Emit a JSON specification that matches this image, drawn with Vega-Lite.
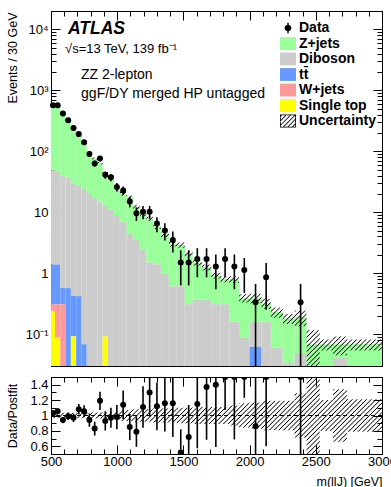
{
  "$schema": "https://vega.github.io/schema/vega-lite/v6.json",
  "padding": {"left": 5, "top": 10, "right": 5, "bottom": 2},
  "config": {
    "font": "Liberation Sans",
    "view": {"stroke": "black", "strokeWidth": 1},
    "axis": {"grid": false, "domainColor": "black", "domainWidth": 1, "tickColor": "black", "tickWidth": 1, "labelColor": "black", "labelFont": "Liberation Sans", "labelFontSize": 13, "titleFont": "Liberation Sans", "titleFontSize": 12.5, "titleFontWeight": "normal", "titleColor": "black", "labelOverlap": false, "labelFlush": false, "labelBound": false}
  },
  "datasets": {
    "samples": [
      {"key": "st", "sample": "Single top", "ord": 1},
      {"key": "w", "sample": "W+jets", "ord": 2},
      {"key": "tt", "sample": "tt̄", "ord": 3},
      {"key": "dib", "sample": "Diboson", "ord": 4},
      {"key": "z", "sample": "Z+jets", "ord": 5}
    ],
    "legendrows": [
      {"sample": "Data"}, {"sample": "Z+jets"}, {"sample": "Diboson"}, {"sample": "tt̄"}, {"sample": "W+jets"}, {"sample": "Single top"}, {"sample": "Uncertainty"}
    ],
    "mc": [
      {"lo": 500, "hi": 530, "z": 506, "dib": 47.6, "tt": 1.08, "w": 0.07, "st": 0.24},
      {"lo": 530, "hi": 570, "z": 493, "dib": 45.6, "tt": 1.08, "w": 0.22, "st": 0.089},
      {"lo": 570, "hi": 610, "z": 401, "dib": 38.4, "tt": 0.26, "w": 0.31, "st": 0},
      {"lo": 610, "hi": 650, "z": 288, "dib": 36.4, "tt": 0.57, "w": 0, "st": 0},
      {"lo": 650, "hi": 690, "z": 218, "dib": 29.6, "tt": 0.33, "w": 0, "st": 0.092},
      {"lo": 690, "hi": 730, "z": 150, "dib": 27.6, "tt": 0.42, "w": 0, "st": 0},
      {"lo": 730, "hi": 770, "z": 110, "dib": 23.9, "tt": 0.068, "w": 0, "st": 0},
      {"lo": 770, "hi": 810, "z": 76, "dib": 20, "tt": 0, "w": 0, "st": 0},
      {"lo": 810, "hi": 850, "z": 59, "dib": 17, "tt": 0, "w": 0, "st": 0},
      {"lo": 850, "hi": 890, "z": 49, "dib": 15, "tt": 0, "w": 0, "st": 0},
      {"lo": 890, "hi": 930, "z": 31, "dib": 12.9, "tt": 0, "w": 0, "st": 0.092},
      {"lo": 930, "hi": 975, "z": 27.5, "dib": 11, "tt": 0, "w": 0, "st": 0},
      {"lo": 975, "hi": 1020, "z": 17.5, "dib": 9, "tt": 0, "w": 0, "st": 0},
      {"lo": 1020, "hi": 1070, "z": 13, "dib": 7, "tt": 0, "w": 0, "st": 0},
      {"lo": 1070, "hi": 1120, "z": 13.1, "dib": 4.5, "tt": 0, "w": 0, "st": 0},
      {"lo": 1120, "hi": 1170, "z": 8.6, "dib": 3.6, "tt": 0, "w": 0, "st": 0},
      {"lo": 1170, "hi": 1220, "z": 6.8, "dib": 2.4, "tt": 0, "w": 0, "st": 0},
      {"lo": 1220, "hi": 1270, "z": 6.3, "dib": 1.5, "tt": 0, "w": 0, "st": 0},
      {"lo": 1270, "hi": 1330, "z": 4.4, "dib": 1.4, "tt": 0, "w": 0, "st": 0},
      {"lo": 1330, "hi": 1390, "z": 3.3, "dib": 1.0, "tt": 0, "w": 0, "st": 0},
      {"lo": 1390, "hi": 1450, "z": 2.39, "dib": 0.61, "tt": 0, "w": 0, "st": 0},
      {"lo": 1450, "hi": 1510, "z": 2.29, "dib": 0.61, "tt": 0, "w": 0, "st": 0},
      {"lo": 1510, "hi": 1570, "z": 1.79, "dib": 0.31, "tt": 0, "w": 0, "st": 0},
      {"lo": 1570, "hi": 1640, "z": 1.12, "dib": 0.37, "tt": 0, "w": 0, "st": 0},
      {"lo": 1640, "hi": 1710, "z": 0.88, "dib": 0.37, "tt": 0, "w": 0, "st": 0},
      {"lo": 1710, "hi": 1780, "z": 0.61, "dib": 0.31, "tt": 0, "w": 0, "st": 0},
      {"lo": 1780, "hi": 1850, "z": 0.49, "dib": 0.31, "tt": 0, "w": 0, "st": 0},
      {"lo": 1850, "hi": 1920, "z": 0.63, "dib": 0.16, "tt": 0, "w": 0, "st": 0},
      {"lo": 1920, "hi": 2000, "z": 0.30, "dib": 0.087, "tt": 0, "w": 0, "st": 0},
      {"lo": 2000, "hi": 2090, "z": 0.23, "dib": 0.098, "tt": 0.062, "w": 0, "st": 0},
      {"lo": 2090, "hi": 2160, "z": 0.16, "dib": 0.16, "tt": 0, "w": 0, "st": 0},
      {"lo": 2160, "hi": 2250, "z": 0.17, "dib": 0.06, "tt": 0, "w": 0, "st": 0},
      {"lo": 2250, "hi": 2340, "z": 0.146, "dib": 0.034, "tt": 0, "w": 0, "st": 0},
      {"lo": 2340, "hi": 2430, "z": 0.141, "dib": 0.049, "tt": 0, "w": 0, "st": 0},
      {"lo": 2430, "hi": 2530, "z": 0.068, "dib": 0, "tt": 0, "w": 0, "st": 0},
      {"lo": 2530, "hi": 2630, "z": 0.068, "dib": 0, "tt": 0, "w": 0, "st": 0},
      {"lo": 2630, "hi": 2735, "z": 0.027, "dib": 0.041, "tt": 0, "w": 0, "st": 0},
      {"lo": 2735, "hi": 3000, "z": 0.068, "dib": 0, "tt": 0, "w": 0, "st": 0}
    ],
    "band": [
      {"lo": 500, "hi": 530, "blo": 535.6, "bhi": 574.4, "rlo": 0.965, "rhi": 1.035},
      {"lo": 530, "hi": 570, "blo": 521.1, "bhi": 558.9, "rlo": 0.965, "rhi": 1.035},
      {"lo": 570, "hi": 610, "blo": 424.6, "bhi": 455.4, "rlo": 0.965, "rhi": 1.035},
      {"lo": 610, "hi": 650, "blo": 313.6, "bhi": 336.4, "rlo": 0.965, "rhi": 1.035},
      {"lo": 650, "hi": 690, "blo": 239.3, "bhi": 256.7, "rlo": 0.965, "rhi": 1.035},
      {"lo": 690, "hi": 730, "blo": 171.8, "bhi": 184.2, "rlo": 0.965, "rhi": 1.035},
      {"lo": 730, "hi": 770, "blo": 129.3, "bhi": 138.7, "rlo": 0.965, "rhi": 1.035},
      {"lo": 770, "hi": 810, "blo": 92.6, "bhi": 99.4, "rlo": 0.965, "rhi": 1.035},
      {"lo": 810, "hi": 850, "blo": 73.0, "bhi": 79.0, "rlo": 0.96, "rhi": 1.04},
      {"lo": 850, "hi": 890, "blo": 61.4, "bhi": 66.6, "rlo": 0.96, "rhi": 1.04},
      {"lo": 890, "hi": 930, "blo": 42.2, "bhi": 45.8, "rlo": 0.96, "rhi": 1.04},
      {"lo": 930, "hi": 975, "blo": 36.6, "bhi": 40.4, "rlo": 0.95, "rhi": 1.05},
      {"lo": 975, "hi": 1020, "blo": 25.2, "bhi": 27.8, "rlo": 0.95, "rhi": 1.05},
      {"lo": 1020, "hi": 1070, "blo": 18.6, "bhi": 21.4, "rlo": 0.93, "rhi": 1.07},
      {"lo": 1070, "hi": 1120, "blo": 16.4, "bhi": 18.8, "rlo": 0.93, "rhi": 1.07},
      {"lo": 1120, "hi": 1170, "blo": 11.2, "bhi": 13.2, "rlo": 0.92, "rhi": 1.08},
      {"lo": 1170, "hi": 1220, "blo": 8.5, "bhi": 9.9, "rlo": 0.92, "rhi": 1.08},
      {"lo": 1220, "hi": 1270, "blo": 7.2, "bhi": 8.4, "rlo": 0.92, "rhi": 1.08},
      {"lo": 1270, "hi": 1330, "blo": 5.28, "bhi": 6.32, "rlo": 0.91, "rhi": 1.09},
      {"lo": 1330, "hi": 1390, "blo": 3.91, "bhi": 4.69, "rlo": 0.91, "rhi": 1.09},
      {"lo": 1390, "hi": 1450, "blo": 2.73, "bhi": 3.27, "rlo": 0.91, "rhi": 1.09},
      {"lo": 1450, "hi": 1510, "blo": 2.61, "bhi": 3.19, "rlo": 0.9, "rhi": 1.1},
      {"lo": 1510, "hi": 1570, "blo": 1.89, "bhi": 2.31, "rlo": 0.9, "rhi": 1.1},
      {"lo": 1570, "hi": 1640, "blo": 1.33, "bhi": 1.65, "rlo": 0.89, "rhi": 1.11},
      {"lo": 1640, "hi": 1710, "blo": 1.11, "bhi": 1.39, "rlo": 0.89, "rhi": 1.11},
      {"lo": 1710, "hi": 1780, "blo": 0.82, "bhi": 1.02, "rlo": 0.89, "rhi": 1.11},
      {"lo": 1780, "hi": 1850, "blo": 0.71, "bhi": 0.89, "rlo": 0.89, "rhi": 1.11},
      {"lo": 1850, "hi": 1920, "blo": 0.69, "bhi": 0.89, "rlo": 0.87, "rhi": 1.13},
      {"lo": 1920, "hi": 2000, "blo": 0.33, "bhi": 0.45, "rlo": 0.84, "rhi": 1.16},
      {"lo": 2000, "hi": 2090, "blo": 0.32, "bhi": 0.46, "rlo": 0.83, "rhi": 1.17},
      {"lo": 2090, "hi": 2160, "blo": 0.26, "bhi": 0.38, "rlo": 0.81, "rhi": 1.19},
      {"lo": 2160, "hi": 2250, "blo": 0.186, "bhi": 0.274, "rlo": 0.81, "rhi": 1.19},
      {"lo": 2250, "hi": 2340, "blo": 0.146, "bhi": 0.214, "rlo": 0.81, "rhi": 1.19},
      {"lo": 2340, "hi": 2430, "blo": 0.135, "bhi": 0.245, "rlo": 0.71, "rhi": 1.29},
      {"lo": 2430, "hi": 2530, "blo": 0.02, "bhi": 0.116, "rlo": 0.3, "rhi": 1.7},
      {"lo": 2530, "hi": 2630, "blo": 0.054, "bhi": 0.082, "rlo": 0.8, "rhi": 1.2},
      {"lo": 2630, "hi": 2735, "blo": 0.045, "bhi": 0.091, "rlo": 0.66, "rhi": 1.34},
      {"lo": 2735, "hi": 3000, "blo": 0.054, "bhi": 0.082, "rlo": 0.79, "rhi": 1.21}
    ],
    "data": [
      {"m": 515, "n": 570, "lo": 546, "hi": 594, "r": 1.03, "rlo": 0.987, "rhi": 1.073},
      {"m": 550, "n": 570, "lo": 549, "hi": 591, "r": 1.055, "rlo": 1.017, "rhi": 1.093},
      {"m": 590, "n": 415, "lo": 397, "hi": 433, "r": 0.94, "rlo": 0.90, "rhi": 0.98},
      {"m": 630, "n": 322, "lo": 306, "hi": 338, "r": 0.99, "rlo": 0.942, "rhi": 1.038},
      {"m": 670, "n": 241, "lo": 228, "hi": 255, "r": 0.97, "rlo": 0.916, "rhi": 1.024},
      {"m": 710, "n": 192, "lo": 180, "hi": 204, "r": 1.08, "rlo": 1.013, "rhi": 1.148},
      {"m": 750, "n": 141, "lo": 131, "hi": 151, "r": 1.055, "rlo": 0.978, "rhi": 1.132},
      {"m": 790, "n": 90, "lo": 82, "hi": 98, "r": 0.94, "rlo": 0.854, "rhi": 1.026},
      {"m": 830, "n": 63, "lo": 56, "hi": 70, "r": 0.83, "rlo": 0.74, "rhi": 0.92},
      {"m": 870, "n": 76, "lo": 68, "hi": 84, "r": 1.19, "rlo": 1.072, "rhi": 1.308},
      {"m": 910, "n": 41, "lo": 35.5, "hi": 46.5, "r": 0.93, "rlo": 0.805, "rhi": 1.055},
      {"m": 952.5, "n": 37.3, "lo": 32.3, "hi": 42.3, "r": 0.97, "rlo": 0.84, "rhi": 1.10},
      {"m": 997.5, "n": 26, "lo": 21.8, "hi": 30.2, "r": 0.98, "rlo": 0.823, "rhi": 1.137},
      {"m": 1045, "n": 22.8, "lo": 19.1, "hi": 26.5, "r": 1.14, "rlo": 0.955, "rhi": 1.325},
      {"m": 1095, "n": 15, "lo": 12, "hi": 18, "r": 0.85, "rlo": 0.68, "rhi": 1.02},
      {"m": 1145, "n": 9.6, "lo": 7.2, "hi": 12, "r": 0.79, "rlo": 0.593, "rhi": 0.988},
      {"m": 1195, "n": 10.2, "lo": 7.7, "hi": 12.7, "r": 1.11, "rlo": 0.841, "rhi": 1.379},
      {"m": 1245, "n": 10.2, "lo": 7.7, "hi": 12.7, "r": 1.30, "rlo": 0.985, "rhi": 1.615},
      {"m": 1300, "n": 6.5, "lo": 4.7, "hi": 8.3, "r": 1.12, "rlo": 0.81, "rhi": 1.43},
      {"m": 1360, "n": 5, "lo": 3.42, "hi": 6.58, "r": 1.16, "rlo": 0.793, "rhi": 1.527},
      {"m": 1420, "n": 3.5, "lo": 2.18, "hi": 4.82, "r": 1.16, "rlo": 0.722, "rhi": 1.598},
      {"m": 1480, "n": 1.5, "lo": 0.63, "hi": 2.37, "r": 0.52, "rlo": 0.22, "rhi": 0.82},
      {"m": 1540, "n": 1.5, "lo": 0.63, "hi": 2.37, "r": 0.72, "rlo": 0.304, "rhi": 1.136},
      {"m": 1605, "n": 1.714, "lo": 0.857, "hi": 2.571, "r": 1.15, "rlo": 0.575, "rhi": 1.725},
      {"m": 1675, "n": 1.714, "lo": 0.857, "hi": 2.571, "r": 1.37, "rlo": 0.685, "rhi": 2.055},
      {"m": 1745, "n": 1.286, "lo": 0.544, "hi": 2.028, "r": 1.40, "rlo": 0.592, "rhi": 2.208},
      {"m": 1815, "n": 1.714, "lo": 0.857, "hi": 2.571, "r": 2.14, "rlo": 1.07, "rhi": 3.21},
      {"m": 1885, "n": 1.286, "lo": 0.544, "hi": 2.028, "r": 1.63, "rlo": 0.69, "rhi": 2.57},
      {"m": 1960, "n": 1.125, "lo": 0.475, "hi": 1.775, "r": 2.9, "rlo": 1.23, "rhi": 4.57},
      {"m": 2045, "n": 0.333, "lo": 0, "hi": 0.667, "r": 0.86, "rlo": 0, "rhi": 1.72},
      {"m": 2125, "n": 0.857, "lo": 0.251, "hi": 1.463, "r": 2.05, "rlo": 0.6, "rhi": 3.5},
      {"m": 2385, "n": 0.333, "lo": 0, "hi": 0.667, "r": 1.75, "rlo": 0, "rhi": 3.5}
    ]
  },
  "spacing": 8,
  "resolve": {"scale": {"color": "independent", "shape": "independent"}},
  "vconcat": [
    {
      "width": 331,
      "height": 355,
      "resolve": {"axis": {"x": "independent", "y": "independent"}},
      "layer": [
        {
          "data": {"name": "legendrows"},
          "mark": {"type": "point", "filled": true, "opacity": 1, "clip": true},
          "encoding": {
            "x": {"datum": 100, "type": "quantitative", "axis": null},
            "y": {"datum": 1, "type": "quantitative", "axis": null},
            "color": {"field": "sample", "type": "nominal",
                      "scale": {"domain": ["Data", "Z+jets", "Diboson", "tt̄", "W+jets", "Single top", "Uncertainty"],
                                "range": ["#000000", "#99ff99", "#cccccc", "#6699ff", "#ff9999", "#ffff00", "#000000"]},
                      "legend": {"title": null, "orient": "none", "legendX": 229, "legendY": 9, "padding": 0, "labelFont": "Liberation Sans", "labelFontSize": 14, "labelFontWeight": "bold", "labelColor": "black", "symbolSize": 256, "rowPadding": 0.5, "labelOffset": 3, "symbolStrokeWidth": 0, "symbolOpacity": 1}},
            "shape": {"field": "sample", "type": "nominal",
                      "scale": {"domain": ["Data", "Z+jets", "Diboson", "tt̄", "W+jets", "Single top", "Uncertainty"],
                                "range": ["M-0.09,-0.65H0.09V0.65H-0.09Z M0.42,0A0.42,0.42 0 1,1 -0.42,0A0.42,0.42 0 1,1 0.42,0Z", "M-1,-0.8H1V0.8H-1Z", "M-1,-0.8H1V0.8H-1Z", "M-1,-0.8H1V0.8H-1Z", "M-1,-0.8H1V0.8H-1Z", "M-1,-0.8H1V0.8H-1Z",
                                          "M-1,-0.8H1V0.8H-1Z M-0.9,-0.72V0.72H0.9V-0.72Z M-1,-0.6L-0.8,-0.8L-0.65,-0.8L-1,-0.45Z M-1,-0.04L-0.24,-0.8L-0.09,-0.8L-1,0.11Z M-1,0.52L0.32,-0.8L0.47,-0.8L-1,0.67Z M-0.72,0.8L0.88,-0.8L1,-0.8L1,-0.77L-0.57,0.8Z M-0.16,0.8L1,-0.36L1,-0.21L-0.01,0.8Z M0.4,0.8L1,0.2L1,0.35L0.55,0.8Z"]},
                      "legend": {"title": null, "orient": "none", "legendX": 229, "legendY": 9, "padding": 0, "labelFont": "Liberation Sans", "labelFontSize": 14, "labelFontWeight": "bold", "labelColor": "black", "symbolSize": 256, "rowPadding": 0.5, "labelOffset": 3, "symbolStrokeWidth": 0, "symbolOpacity": 1}}
          }
        },
        {
          "data": {"name": "mc"},
          "transform": [
            {"fold": ["z", "dib", "tt", "w", "st"], "as": ["key", "v"]},
            {"lookup": "key", "from": {"data": {"name": "samples"}, "key": "key", "fields": ["sample", "ord"]}},
            {"stack": "v", "groupby": ["lo"], "sort": [{"field": "ord", "order": "ascending"}], "as": ["s0", "s1"]}
          ],
          "mark": {"type": "rect"},
          "encoding": {
            "x": {"field": "lo", "type": "quantitative", "scale": {"domain": [500, 3000], "nice": false, "zero": false},
                  "axis": {"orient": "bottom", "values": [500,600,700,800,900,1000,1100,1200,1300,1400,1500,1600,1700,1800,1900,2000,2100,2200,2300,2400,2500,2600,2700,2800,2900,3000], "labels": false, "title": null,
                           "tickSize": {"condition": {"test": "datum.value % 500 === 0", "value": -9}, "value": -5}}},
            "x2": {"field": "hi"},
            "y": {"field": "s1", "type": "quantitative", "scale": {"type": "log", "domain": [0.03, 20000], "clamp": true, "nice": false},
                  "axis": {"orient": "left", "values": [0.04,0.05,0.06,0.07,0.08,0.09,0.1,0.2,0.3,0.4,0.5,0.6,0.7,0.8,0.9,1,2,3,4,5,6,7,8,9,10,20,30,40,50,60,70,80,90,100,200,300,400,500,600,700,800,900,1000,2000,3000,4000,5000,6000,7000,8000,9000,10000],
                           "labelExpr": "datum.value == 10000 ? '10⁴' : datum.value == 1000 ? '10³' : datum.value == 100 ? '10²' : datum.value == 10 ? '10' : datum.value == 1 ? '1' : datum.value == 0.1 ? '10⁻¹' : ''",
                           "tickSize": {"condition": {"test": "datum.value == 0.1 || datum.value == 1 || datum.value == 10 || datum.value == 100 || datum.value == 1000 || datum.value == 10000", "value": -9}, "value": -5},
                           "labelPadding": 12, "title": "Events / 30 GeV", "titleAnchor": "end", "titleX": -32, "titleY": 1, "titleAlign": "right"}},
            "y2": {"field": "s0"},
            "color": {"field": "sample", "type": "nominal",
                      "scale": {"domain": ["Data", "Z+jets", "Diboson", "tt̄", "W+jets", "Single top", "Uncertainty"],
                                "range": ["#000000", "#99ff99", "#cccccc", "#6699ff", "#ff9999", "#ffff00", "#000000"]},
                      "legend": null}
          }
        },
        {
          "data": {"name": "band"},
          "transform": [{"fold": ["lo", "hi"], "as": ["side", "edge"]}],
          "mark": {"type": "area", "fill": {"gradient": "linear", "x1": 0, "y1": 0, "x2": 1.1, "y2": 0.87, "stops": [
            {"offset":0,"color":"#0000"},{"offset":0.0018,"color":"#000"},{"offset":0.0036,"color":"#0000"},
            {"offset":0.008,"color":"#0000"},{"offset":0.0098,"color":"#000"},{"offset":0.0116,"color":"#0000"},
            {"offset":0.016,"color":"#0000"},{"offset":0.0178,"color":"#000"},{"offset":0.0196,"color":"#0000"},
            {"offset":0.024,"color":"#0000"},{"offset":0.0258,"color":"#000"},{"offset":0.0276,"color":"#0000"},
            {"offset":0.032,"color":"#0000"},{"offset":0.0338,"color":"#000"},{"offset":0.0356,"color":"#0000"},
            {"offset":0.04,"color":"#0000"},{"offset":0.0418,"color":"#000"},{"offset":0.0436,"color":"#0000"},
            {"offset":0.048,"color":"#0000"},{"offset":0.0498,"color":"#000"},{"offset":0.0516,"color":"#0000"},
            {"offset":0.056,"color":"#0000"},{"offset":0.0578,"color":"#000"},{"offset":0.0596,"color":"#0000"},
            {"offset":0.064,"color":"#0000"},{"offset":0.0658,"color":"#000"},{"offset":0.0676,"color":"#0000"},
            {"offset":0.072,"color":"#0000"},{"offset":0.0738,"color":"#000"},{"offset":0.0756,"color":"#0000"},
            {"offset":0.08,"color":"#0000"},{"offset":0.0818,"color":"#000"},{"offset":0.0836,"color":"#0000"},
            {"offset":0.088,"color":"#0000"},{"offset":0.0898,"color":"#000"},{"offset":0.0916,"color":"#0000"},
            {"offset":0.096,"color":"#0000"},{"offset":0.0978,"color":"#000"},{"offset":0.0996,"color":"#0000"},
            {"offset":0.104,"color":"#0000"},{"offset":0.1058,"color":"#000"},{"offset":0.1076,"color":"#0000"},
            {"offset":0.112,"color":"#0000"},{"offset":0.1138,"color":"#000"},{"offset":0.1156,"color":"#0000"},
            {"offset":0.12,"color":"#0000"},{"offset":0.1218,"color":"#000"},{"offset":0.1236,"color":"#0000"},
            {"offset":0.128,"color":"#0000"},{"offset":0.1298,"color":"#000"},{"offset":0.1316,"color":"#0000"},
            {"offset":0.136,"color":"#0000"},{"offset":0.1378,"color":"#000"},{"offset":0.1396,"color":"#0000"},
            {"offset":0.144,"color":"#0000"},{"offset":0.1458,"color":"#000"},{"offset":0.1476,"color":"#0000"},
            {"offset":0.152,"color":"#0000"},{"offset":0.1538,"color":"#000"},{"offset":0.1556,"color":"#0000"},
            {"offset":0.16,"color":"#0000"},{"offset":0.1618,"color":"#000"},{"offset":0.1636,"color":"#0000"},
            {"offset":0.168,"color":"#0000"},{"offset":0.1698,"color":"#000"},{"offset":0.1716,"color":"#0000"},
            {"offset":0.176,"color":"#0000"},{"offset":0.1778,"color":"#000"},{"offset":0.1796,"color":"#0000"},
            {"offset":0.184,"color":"#0000"},{"offset":0.1858,"color":"#000"},{"offset":0.1876,"color":"#0000"},
            {"offset":0.192,"color":"#0000"},{"offset":0.1938,"color":"#000"},{"offset":0.1956,"color":"#0000"},
            {"offset":0.2,"color":"#0000"},{"offset":0.2018,"color":"#000"},{"offset":0.2036,"color":"#0000"},
            {"offset":0.208,"color":"#0000"},{"offset":0.2098,"color":"#000"},{"offset":0.2116,"color":"#0000"},
            {"offset":0.216,"color":"#0000"},{"offset":0.2178,"color":"#000"},{"offset":0.2196,"color":"#0000"},
            {"offset":0.224,"color":"#0000"},{"offset":0.2258,"color":"#000"},{"offset":0.2276,"color":"#0000"},
            {"offset":0.232,"color":"#0000"},{"offset":0.2338,"color":"#000"},{"offset":0.2356,"color":"#0000"},
            {"offset":0.24,"color":"#0000"},{"offset":0.2418,"color":"#000"},{"offset":0.2436,"color":"#0000"},
            {"offset":0.248,"color":"#0000"},{"offset":0.2498,"color":"#000"},{"offset":0.2516,"color":"#0000"},
            {"offset":0.256,"color":"#0000"},{"offset":0.2578,"color":"#000"},{"offset":0.2596,"color":"#0000"},
            {"offset":0.264,"color":"#0000"},{"offset":0.2658,"color":"#000"},{"offset":0.2676,"color":"#0000"},
            {"offset":0.272,"color":"#0000"},{"offset":0.2738,"color":"#000"},{"offset":0.2756,"color":"#0000"},
            {"offset":0.28,"color":"#0000"},{"offset":0.2818,"color":"#000"},{"offset":0.2836,"color":"#0000"},
            {"offset":0.288,"color":"#0000"},{"offset":0.2898,"color":"#000"},{"offset":0.2916,"color":"#0000"},
            {"offset":0.296,"color":"#0000"},{"offset":0.2978,"color":"#000"},{"offset":0.2996,"color":"#0000"},
            {"offset":0.304,"color":"#0000"},{"offset":0.3058,"color":"#000"},{"offset":0.3076,"color":"#0000"},
            {"offset":0.312,"color":"#0000"},{"offset":0.3138,"color":"#000"},{"offset":0.3156,"color":"#0000"},
            {"offset":0.32,"color":"#0000"},{"offset":0.3218,"color":"#000"},{"offset":0.3236,"color":"#0000"},
            {"offset":0.328,"color":"#0000"},{"offset":0.3298,"color":"#000"},{"offset":0.3316,"color":"#0000"},
            {"offset":0.336,"color":"#0000"},{"offset":0.3378,"color":"#000"},{"offset":0.3396,"color":"#0000"},
            {"offset":0.344,"color":"#0000"},{"offset":0.3458,"color":"#000"},{"offset":0.3476,"color":"#0000"},
            {"offset":0.352,"color":"#0000"},{"offset":0.3538,"color":"#000"},{"offset":0.3556,"color":"#0000"},
            {"offset":0.36,"color":"#0000"},{"offset":0.3618,"color":"#000"},{"offset":0.3636,"color":"#0000"},
            {"offset":0.368,"color":"#0000"},{"offset":0.3698,"color":"#000"},{"offset":0.3716,"color":"#0000"},
            {"offset":0.376,"color":"#0000"},{"offset":0.3778,"color":"#000"},{"offset":0.3796,"color":"#0000"},
            {"offset":0.384,"color":"#0000"},{"offset":0.3858,"color":"#000"},{"offset":0.3876,"color":"#0000"},
            {"offset":0.392,"color":"#0000"},{"offset":0.3938,"color":"#000"},{"offset":0.3956,"color":"#0000"},
            {"offset":0.4,"color":"#0000"},{"offset":0.4018,"color":"#000"},{"offset":0.4036,"color":"#0000"},
            {"offset":0.408,"color":"#0000"},{"offset":0.4098,"color":"#000"},{"offset":0.4116,"color":"#0000"},
            {"offset":0.416,"color":"#0000"},{"offset":0.4178,"color":"#000"},{"offset":0.4196,"color":"#0000"},
            {"offset":0.424,"color":"#0000"},{"offset":0.4258,"color":"#000"},{"offset":0.4276,"color":"#0000"},
            {"offset":0.432,"color":"#0000"},{"offset":0.4338,"color":"#000"},{"offset":0.4356,"color":"#0000"},
            {"offset":0.44,"color":"#0000"},{"offset":0.4418,"color":"#000"},{"offset":0.4436,"color":"#0000"},
            {"offset":0.448,"color":"#0000"},{"offset":0.4498,"color":"#000"},{"offset":0.4516,"color":"#0000"},
            {"offset":0.456,"color":"#0000"},{"offset":0.4578,"color":"#000"},{"offset":0.4596,"color":"#0000"},
            {"offset":0.464,"color":"#0000"},{"offset":0.4658,"color":"#000"},{"offset":0.4676,"color":"#0000"},
            {"offset":0.472,"color":"#0000"},{"offset":0.4738,"color":"#000"},{"offset":0.4756,"color":"#0000"},
            {"offset":0.48,"color":"#0000"},{"offset":0.4818,"color":"#000"},{"offset":0.4836,"color":"#0000"},
            {"offset":0.488,"color":"#0000"},{"offset":0.4898,"color":"#000"},{"offset":0.4916,"color":"#0000"},
            {"offset":0.496,"color":"#0000"},{"offset":0.4978,"color":"#000"},{"offset":0.4996,"color":"#0000"},
            {"offset":0.504,"color":"#0000"},{"offset":0.5058,"color":"#000"},{"offset":0.5076,"color":"#0000"},
            {"offset":0.512,"color":"#0000"},{"offset":0.5138,"color":"#000"},{"offset":0.5156,"color":"#0000"},
            {"offset":0.52,"color":"#0000"},{"offset":0.5218,"color":"#000"},{"offset":0.5236,"color":"#0000"},
            {"offset":0.528,"color":"#0000"},{"offset":0.5298,"color":"#000"},{"offset":0.5316,"color":"#0000"},
            {"offset":0.536,"color":"#0000"},{"offset":0.5378,"color":"#000"},{"offset":0.5396,"color":"#0000"},
            {"offset":0.544,"color":"#0000"},{"offset":0.5458,"color":"#000"},{"offset":0.5476,"color":"#0000"},
            {"offset":0.552,"color":"#0000"},{"offset":0.5538,"color":"#000"},{"offset":0.5556,"color":"#0000"},
            {"offset":0.56,"color":"#0000"},{"offset":0.5618,"color":"#000"},{"offset":0.5636,"color":"#0000"},
            {"offset":0.568,"color":"#0000"},{"offset":0.5698,"color":"#000"},{"offset":0.5716,"color":"#0000"},
            {"offset":0.576,"color":"#0000"},{"offset":0.5778,"color":"#000"},{"offset":0.5796,"color":"#0000"},
            {"offset":0.584,"color":"#0000"},{"offset":0.5858,"color":"#000"},{"offset":0.5876,"color":"#0000"},
            {"offset":0.592,"color":"#0000"},{"offset":0.5938,"color":"#000"},{"offset":0.5956,"color":"#0000"},
            {"offset":0.6,"color":"#0000"},{"offset":0.6018,"color":"#000"},{"offset":0.6036,"color":"#0000"},
            {"offset":0.608,"color":"#0000"},{"offset":0.6098,"color":"#000"},{"offset":0.6116,"color":"#0000"},
            {"offset":0.616,"color":"#0000"},{"offset":0.6178,"color":"#000"},{"offset":0.6196,"color":"#0000"},
            {"offset":0.624,"color":"#0000"},{"offset":0.6258,"color":"#000"},{"offset":0.6276,"color":"#0000"},
            {"offset":0.632,"color":"#0000"},{"offset":0.6338,"color":"#000"},{"offset":0.6356,"color":"#0000"},
            {"offset":0.64,"color":"#0000"},{"offset":0.6418,"color":"#000"},{"offset":0.6436,"color":"#0000"},
            {"offset":0.648,"color":"#0000"},{"offset":0.6498,"color":"#000"},{"offset":0.6516,"color":"#0000"},
            {"offset":0.656,"color":"#0000"},{"offset":0.6578,"color":"#000"},{"offset":0.6596,"color":"#0000"},
            {"offset":0.664,"color":"#0000"},{"offset":0.6658,"color":"#000"},{"offset":0.6676,"color":"#0000"},
            {"offset":0.672,"color":"#0000"},{"offset":0.6738,"color":"#000"},{"offset":0.6756,"color":"#0000"},
            {"offset":0.68,"color":"#0000"},{"offset":0.6818,"color":"#000"},{"offset":0.6836,"color":"#0000"},
            {"offset":0.688,"color":"#0000"},{"offset":0.6898,"color":"#000"},{"offset":0.6916,"color":"#0000"},
            {"offset":0.696,"color":"#0000"},{"offset":0.6978,"color":"#000"},{"offset":0.6996,"color":"#0000"},
            {"offset":0.704,"color":"#0000"},{"offset":0.7058,"color":"#000"},{"offset":0.7076,"color":"#0000"},
            {"offset":0.712,"color":"#0000"},{"offset":0.7138,"color":"#000"},{"offset":0.7156,"color":"#0000"},
            {"offset":0.72,"color":"#0000"},{"offset":0.7218,"color":"#000"},{"offset":0.7236,"color":"#0000"},
            {"offset":0.728,"color":"#0000"},{"offset":0.7298,"color":"#000"},{"offset":0.7316,"color":"#0000"},
            {"offset":0.736,"color":"#0000"},{"offset":0.7378,"color":"#000"},{"offset":0.7396,"color":"#0000"},
            {"offset":0.744,"color":"#0000"},{"offset":0.7458,"color":"#000"},{"offset":0.7476,"color":"#0000"},
            {"offset":0.752,"color":"#0000"},{"offset":0.7538,"color":"#000"},{"offset":0.7556,"color":"#0000"},
            {"offset":0.76,"color":"#0000"},{"offset":0.7618,"color":"#000"},{"offset":0.7636,"color":"#0000"},
            {"offset":0.768,"color":"#0000"},{"offset":0.7698,"color":"#000"},{"offset":0.7716,"color":"#0000"},
            {"offset":0.776,"color":"#0000"},{"offset":0.7778,"color":"#000"},{"offset":0.7796,"color":"#0000"},
            {"offset":0.784,"color":"#0000"},{"offset":0.7858,"color":"#000"},{"offset":0.7876,"color":"#0000"},
            {"offset":0.792,"color":"#0000"},{"offset":0.7938,"color":"#000"},{"offset":0.7956,"color":"#0000"},
            {"offset":0.8,"color":"#0000"},{"offset":0.8018,"color":"#000"},{"offset":0.8036,"color":"#0000"},
            {"offset":0.808,"color":"#0000"},{"offset":0.8098,"color":"#000"},{"offset":0.8116,"color":"#0000"},
            {"offset":0.816,"color":"#0000"},{"offset":0.8178,"color":"#000"},{"offset":0.8196,"color":"#0000"},
            {"offset":0.824,"color":"#0000"},{"offset":0.8258,"color":"#000"},{"offset":0.8276,"color":"#0000"},
            {"offset":0.832,"color":"#0000"},{"offset":0.8338,"color":"#000"},{"offset":0.8356,"color":"#0000"},
            {"offset":0.84,"color":"#0000"},{"offset":0.8418,"color":"#000"},{"offset":0.8436,"color":"#0000"},
            {"offset":0.848,"color":"#0000"},{"offset":0.8498,"color":"#000"},{"offset":0.8516,"color":"#0000"},
            {"offset":0.856,"color":"#0000"},{"offset":0.8578,"color":"#000"},{"offset":0.8596,"color":"#0000"},
            {"offset":0.864,"color":"#0000"},{"offset":0.8658,"color":"#000"},{"offset":0.8676,"color":"#0000"},
            {"offset":0.872,"color":"#0000"},{"offset":0.8738,"color":"#000"},{"offset":0.8756,"color":"#0000"},
            {"offset":0.88,"color":"#0000"},{"offset":0.8818,"color":"#000"},{"offset":0.8836,"color":"#0000"},
            {"offset":0.888,"color":"#0000"},{"offset":0.8898,"color":"#000"},{"offset":0.8916,"color":"#0000"},
            {"offset":0.896,"color":"#0000"},{"offset":0.8978,"color":"#000"},{"offset":0.8996,"color":"#0000"},
            {"offset":0.904,"color":"#0000"},{"offset":0.9058,"color":"#000"},{"offset":0.9076,"color":"#0000"},
            {"offset":0.912,"color":"#0000"},{"offset":0.9138,"color":"#000"},{"offset":0.9156,"color":"#0000"},
            {"offset":0.92,"color":"#0000"},{"offset":0.9218,"color":"#000"},{"offset":0.9236,"color":"#0000"},
            {"offset":0.928,"color":"#0000"},{"offset":0.9298,"color":"#000"},{"offset":0.9316,"color":"#0000"},
            {"offset":0.936,"color":"#0000"},{"offset":0.9378,"color":"#000"},{"offset":0.9396,"color":"#0000"},
            {"offset":0.944,"color":"#0000"},{"offset":0.9458,"color":"#000"},{"offset":0.9476,"color":"#0000"},
            {"offset":0.952,"color":"#0000"},{"offset":0.9538,"color":"#000"},{"offset":0.9556,"color":"#0000"},
            {"offset":0.96,"color":"#0000"},{"offset":0.9618,"color":"#000"},{"offset":0.9636,"color":"#0000"},
            {"offset":0.968,"color":"#0000"},{"offset":0.9698,"color":"#000"},{"offset":0.9716,"color":"#0000"},
            {"offset":0.976,"color":"#0000"},{"offset":0.9778,"color":"#000"},{"offset":0.9796,"color":"#0000"},
            {"offset":0.984,"color":"#0000"},{"offset":0.9858,"color":"#000"},{"offset":0.9876,"color":"#0000"},
            {"offset":0.992,"color":"#0000"},{"offset":0.9938,"color":"#000"},{"offset":0.9956,"color":"#0000"}]}},
          "encoding": {
            "x": {"field": "edge", "type": "quantitative",
                  "axis": {"orient": "top", "values": [500,600,700,800,900,1000,1100,1200,1300,1400,1500,1600,1700,1800,1900,2000,2100,2200,2300,2400,2500,2600,2700,2800,2900,3000], "labels": false, "title": null,
                           "tickSize": {"condition": {"test": "datum.value % 500 === 0", "value": -9}, "value": -5}}},
            "y": {"field": "bhi", "type": "quantitative",
                  "axis": {"orient": "right", "values": [0.04,0.05,0.06,0.07,0.08,0.09,0.1,0.2,0.3,0.4,0.5,0.6,0.7,0.8,0.9,1,2,3,4,5,6,7,8,9,10,20,30,40,50,60,70,80,90,100,200,300,400,500,600,700,800,900,1000,2000,3000,4000,5000,6000,7000,8000,9000,10000],
                           "labels": false, "title": null,
                           "tickSize": {"condition": {"test": "datum.value == 0.1 || datum.value == 1 || datum.value == 10 || datum.value == 100 || datum.value == 1000 || datum.value == 10000", "value": -9}, "value": -5}}},
            "y2": {"field": "blo"}
          }
        },
        {
          "data": {"name": "data"},
          "mark": {"type": "rule", "color": "black", "strokeWidth": 1.6},
          "encoding": {
            "x": {"field": "m", "type": "quantitative", "axis": null},
            "y": {"field": "hi", "type": "quantitative", "axis": null},
            "y2": {"field": "lo"}
          }
        },
        {
          "data": {"name": "data"},
          "mark": {"type": "circle", "color": "black", "opacity": 1, "size": 36},
          "encoding": {
            "x": {"field": "m", "type": "quantitative", "axis": null},
            "y": {"field": "n", "type": "quantitative", "axis": null}
          }
        },
        {
          "data": {"values": [{}]},
          "mark": {"type": "text", "text": "ATLAS", "align": "left", "baseline": "alphabetic", "font": "Liberation Sans", "fontSize": 17.5, "fontWeight": "bold", "fontStyle": "italic", "color": "black"},
          "encoding": {"x": {"datum": 628, "type": "quantitative", "axis": null}, "y": {"datum": 8280, "type": "quantitative", "axis": null}}
        },
        {
          "data": {"values": [{}]},
          "mark": {"type": "text", "text": "√s=13 TeV, 139 fb⁻¹", "align": "left", "baseline": "alphabetic", "font": "Liberation Sans", "fontSize": 13, "color": "black"},
          "encoding": {"x": {"datum": 606, "type": "quantitative", "axis": null}, "y": {"datum": 4040, "type": "quantitative", "axis": null}}
        },
        {
          "data": {"values": [{}]},
          "mark": {"type": "text", "text": "ZZ 2-lepton", "align": "left", "baseline": "alphabetic", "font": "Liberation Sans", "fontSize": 14, "color": "black"},
          "encoding": {"x": {"datum": 727, "type": "quantitative", "axis": null}, "y": {"datum": 1540, "type": "quantitative", "axis": null}}
        },
        {
          "data": {"values": [{}]},
          "mark": {"type": "text", "text": "ggF/DY merged HP untagged", "align": "left", "baseline": "alphabetic", "font": "Liberation Sans", "fontSize": 14, "color": "black"},
          "encoding": {"x": {"datum": 727, "type": "quantitative", "axis": null}, "y": {"datum": 752, "type": "quantitative", "axis": null}}
        }
      ]
    },
    {
      "width": 331,
      "height": 77,
      "resolve": {"axis": {"x": "independent", "y": "independent"}},
      "layer": [
        {
          "data": {"name": "band"},
          "transform": [{"fold": ["lo", "hi"], "as": ["side", "edge"]}],
          "mark": {"type": "area", "fill": {"gradient": "linear", "x1": 0, "y1": 0, "x2": 1.7, "y2": 0.396, "stops": [
            {"offset":0,"color":"#0000"},{"offset":0.0018,"color":"#000"},{"offset":0.0036,"color":"#0000"},
            {"offset":0.008,"color":"#0000"},{"offset":0.0098,"color":"#000"},{"offset":0.0116,"color":"#0000"},
            {"offset":0.016,"color":"#0000"},{"offset":0.0178,"color":"#000"},{"offset":0.0196,"color":"#0000"},
            {"offset":0.024,"color":"#0000"},{"offset":0.0258,"color":"#000"},{"offset":0.0276,"color":"#0000"},
            {"offset":0.032,"color":"#0000"},{"offset":0.0338,"color":"#000"},{"offset":0.0356,"color":"#0000"},
            {"offset":0.04,"color":"#0000"},{"offset":0.0418,"color":"#000"},{"offset":0.0436,"color":"#0000"},
            {"offset":0.048,"color":"#0000"},{"offset":0.0498,"color":"#000"},{"offset":0.0516,"color":"#0000"},
            {"offset":0.056,"color":"#0000"},{"offset":0.0578,"color":"#000"},{"offset":0.0596,"color":"#0000"},
            {"offset":0.064,"color":"#0000"},{"offset":0.0658,"color":"#000"},{"offset":0.0676,"color":"#0000"},
            {"offset":0.072,"color":"#0000"},{"offset":0.0738,"color":"#000"},{"offset":0.0756,"color":"#0000"},
            {"offset":0.08,"color":"#0000"},{"offset":0.0818,"color":"#000"},{"offset":0.0836,"color":"#0000"},
            {"offset":0.088,"color":"#0000"},{"offset":0.0898,"color":"#000"},{"offset":0.0916,"color":"#0000"},
            {"offset":0.096,"color":"#0000"},{"offset":0.0978,"color":"#000"},{"offset":0.0996,"color":"#0000"},
            {"offset":0.104,"color":"#0000"},{"offset":0.1058,"color":"#000"},{"offset":0.1076,"color":"#0000"},
            {"offset":0.112,"color":"#0000"},{"offset":0.1138,"color":"#000"},{"offset":0.1156,"color":"#0000"},
            {"offset":0.12,"color":"#0000"},{"offset":0.1218,"color":"#000"},{"offset":0.1236,"color":"#0000"},
            {"offset":0.128,"color":"#0000"},{"offset":0.1298,"color":"#000"},{"offset":0.1316,"color":"#0000"},
            {"offset":0.136,"color":"#0000"},{"offset":0.1378,"color":"#000"},{"offset":0.1396,"color":"#0000"},
            {"offset":0.144,"color":"#0000"},{"offset":0.1458,"color":"#000"},{"offset":0.1476,"color":"#0000"},
            {"offset":0.152,"color":"#0000"},{"offset":0.1538,"color":"#000"},{"offset":0.1556,"color":"#0000"},
            {"offset":0.16,"color":"#0000"},{"offset":0.1618,"color":"#000"},{"offset":0.1636,"color":"#0000"},
            {"offset":0.168,"color":"#0000"},{"offset":0.1698,"color":"#000"},{"offset":0.1716,"color":"#0000"},
            {"offset":0.176,"color":"#0000"},{"offset":0.1778,"color":"#000"},{"offset":0.1796,"color":"#0000"},
            {"offset":0.184,"color":"#0000"},{"offset":0.1858,"color":"#000"},{"offset":0.1876,"color":"#0000"},
            {"offset":0.192,"color":"#0000"},{"offset":0.1938,"color":"#000"},{"offset":0.1956,"color":"#0000"},
            {"offset":0.2,"color":"#0000"},{"offset":0.2018,"color":"#000"},{"offset":0.2036,"color":"#0000"},
            {"offset":0.208,"color":"#0000"},{"offset":0.2098,"color":"#000"},{"offset":0.2116,"color":"#0000"},
            {"offset":0.216,"color":"#0000"},{"offset":0.2178,"color":"#000"},{"offset":0.2196,"color":"#0000"},
            {"offset":0.224,"color":"#0000"},{"offset":0.2258,"color":"#000"},{"offset":0.2276,"color":"#0000"},
            {"offset":0.232,"color":"#0000"},{"offset":0.2338,"color":"#000"},{"offset":0.2356,"color":"#0000"},
            {"offset":0.24,"color":"#0000"},{"offset":0.2418,"color":"#000"},{"offset":0.2436,"color":"#0000"},
            {"offset":0.248,"color":"#0000"},{"offset":0.2498,"color":"#000"},{"offset":0.2516,"color":"#0000"},
            {"offset":0.256,"color":"#0000"},{"offset":0.2578,"color":"#000"},{"offset":0.2596,"color":"#0000"},
            {"offset":0.264,"color":"#0000"},{"offset":0.2658,"color":"#000"},{"offset":0.2676,"color":"#0000"},
            {"offset":0.272,"color":"#0000"},{"offset":0.2738,"color":"#000"},{"offset":0.2756,"color":"#0000"},
            {"offset":0.28,"color":"#0000"},{"offset":0.2818,"color":"#000"},{"offset":0.2836,"color":"#0000"},
            {"offset":0.288,"color":"#0000"},{"offset":0.2898,"color":"#000"},{"offset":0.2916,"color":"#0000"},
            {"offset":0.296,"color":"#0000"},{"offset":0.2978,"color":"#000"},{"offset":0.2996,"color":"#0000"},
            {"offset":0.304,"color":"#0000"},{"offset":0.3058,"color":"#000"},{"offset":0.3076,"color":"#0000"},
            {"offset":0.312,"color":"#0000"},{"offset":0.3138,"color":"#000"},{"offset":0.3156,"color":"#0000"},
            {"offset":0.32,"color":"#0000"},{"offset":0.3218,"color":"#000"},{"offset":0.3236,"color":"#0000"},
            {"offset":0.328,"color":"#0000"},{"offset":0.3298,"color":"#000"},{"offset":0.3316,"color":"#0000"},
            {"offset":0.336,"color":"#0000"},{"offset":0.3378,"color":"#000"},{"offset":0.3396,"color":"#0000"},
            {"offset":0.344,"color":"#0000"},{"offset":0.3458,"color":"#000"},{"offset":0.3476,"color":"#0000"},
            {"offset":0.352,"color":"#0000"},{"offset":0.3538,"color":"#000"},{"offset":0.3556,"color":"#0000"},
            {"offset":0.36,"color":"#0000"},{"offset":0.3618,"color":"#000"},{"offset":0.3636,"color":"#0000"},
            {"offset":0.368,"color":"#0000"},{"offset":0.3698,"color":"#000"},{"offset":0.3716,"color":"#0000"},
            {"offset":0.376,"color":"#0000"},{"offset":0.3778,"color":"#000"},{"offset":0.3796,"color":"#0000"},
            {"offset":0.384,"color":"#0000"},{"offset":0.3858,"color":"#000"},{"offset":0.3876,"color":"#0000"},
            {"offset":0.392,"color":"#0000"},{"offset":0.3938,"color":"#000"},{"offset":0.3956,"color":"#0000"},
            {"offset":0.4,"color":"#0000"},{"offset":0.4018,"color":"#000"},{"offset":0.4036,"color":"#0000"},
            {"offset":0.408,"color":"#0000"},{"offset":0.4098,"color":"#000"},{"offset":0.4116,"color":"#0000"},
            {"offset":0.416,"color":"#0000"},{"offset":0.4178,"color":"#000"},{"offset":0.4196,"color":"#0000"},
            {"offset":0.424,"color":"#0000"},{"offset":0.4258,"color":"#000"},{"offset":0.4276,"color":"#0000"},
            {"offset":0.432,"color":"#0000"},{"offset":0.4338,"color":"#000"},{"offset":0.4356,"color":"#0000"},
            {"offset":0.44,"color":"#0000"},{"offset":0.4418,"color":"#000"},{"offset":0.4436,"color":"#0000"},
            {"offset":0.448,"color":"#0000"},{"offset":0.4498,"color":"#000"},{"offset":0.4516,"color":"#0000"},
            {"offset":0.456,"color":"#0000"},{"offset":0.4578,"color":"#000"},{"offset":0.4596,"color":"#0000"},
            {"offset":0.464,"color":"#0000"},{"offset":0.4658,"color":"#000"},{"offset":0.4676,"color":"#0000"},
            {"offset":0.472,"color":"#0000"},{"offset":0.4738,"color":"#000"},{"offset":0.4756,"color":"#0000"},
            {"offset":0.48,"color":"#0000"},{"offset":0.4818,"color":"#000"},{"offset":0.4836,"color":"#0000"},
            {"offset":0.488,"color":"#0000"},{"offset":0.4898,"color":"#000"},{"offset":0.4916,"color":"#0000"},
            {"offset":0.496,"color":"#0000"},{"offset":0.4978,"color":"#000"},{"offset":0.4996,"color":"#0000"},
            {"offset":0.504,"color":"#0000"},{"offset":0.5058,"color":"#000"},{"offset":0.5076,"color":"#0000"},
            {"offset":0.512,"color":"#0000"},{"offset":0.5138,"color":"#000"},{"offset":0.5156,"color":"#0000"},
            {"offset":0.52,"color":"#0000"},{"offset":0.5218,"color":"#000"},{"offset":0.5236,"color":"#0000"},
            {"offset":0.528,"color":"#0000"},{"offset":0.5298,"color":"#000"},{"offset":0.5316,"color":"#0000"},
            {"offset":0.536,"color":"#0000"},{"offset":0.5378,"color":"#000"},{"offset":0.5396,"color":"#0000"},
            {"offset":0.544,"color":"#0000"},{"offset":0.5458,"color":"#000"},{"offset":0.5476,"color":"#0000"},
            {"offset":0.552,"color":"#0000"},{"offset":0.5538,"color":"#000"},{"offset":0.5556,"color":"#0000"},
            {"offset":0.56,"color":"#0000"},{"offset":0.5618,"color":"#000"},{"offset":0.5636,"color":"#0000"},
            {"offset":0.568,"color":"#0000"},{"offset":0.5698,"color":"#000"},{"offset":0.5716,"color":"#0000"},
            {"offset":0.576,"color":"#0000"},{"offset":0.5778,"color":"#000"},{"offset":0.5796,"color":"#0000"},
            {"offset":0.584,"color":"#0000"},{"offset":0.5858,"color":"#000"},{"offset":0.5876,"color":"#0000"},
            {"offset":0.592,"color":"#0000"},{"offset":0.5938,"color":"#000"},{"offset":0.5956,"color":"#0000"},
            {"offset":0.6,"color":"#0000"},{"offset":0.6018,"color":"#000"},{"offset":0.6036,"color":"#0000"},
            {"offset":0.608,"color":"#0000"},{"offset":0.6098,"color":"#000"},{"offset":0.6116,"color":"#0000"},
            {"offset":0.616,"color":"#0000"},{"offset":0.6178,"color":"#000"},{"offset":0.6196,"color":"#0000"},
            {"offset":0.624,"color":"#0000"},{"offset":0.6258,"color":"#000"},{"offset":0.6276,"color":"#0000"},
            {"offset":0.632,"color":"#0000"},{"offset":0.6338,"color":"#000"},{"offset":0.6356,"color":"#0000"},
            {"offset":0.64,"color":"#0000"},{"offset":0.6418,"color":"#000"},{"offset":0.6436,"color":"#0000"},
            {"offset":0.648,"color":"#0000"},{"offset":0.6498,"color":"#000"},{"offset":0.6516,"color":"#0000"},
            {"offset":0.656,"color":"#0000"},{"offset":0.6578,"color":"#000"},{"offset":0.6596,"color":"#0000"},
            {"offset":0.664,"color":"#0000"},{"offset":0.6658,"color":"#000"},{"offset":0.6676,"color":"#0000"},
            {"offset":0.672,"color":"#0000"},{"offset":0.6738,"color":"#000"},{"offset":0.6756,"color":"#0000"},
            {"offset":0.68,"color":"#0000"},{"offset":0.6818,"color":"#000"},{"offset":0.6836,"color":"#0000"},
            {"offset":0.688,"color":"#0000"},{"offset":0.6898,"color":"#000"},{"offset":0.6916,"color":"#0000"}]}},
          "encoding": {
            "x": {"field": "edge", "type": "quantitative", "scale": {"domain": [500, 3000], "nice": false, "zero": false},
                  "axis": {"orient": "bottom", "values": [500,600,700,800,900,1000,1100,1200,1300,1400,1500,1600,1700,1800,1900,2000,2100,2200,2300,2400,2500,2600,2700,2800,2900,3000],
                           "labelExpr": "datum.value % 500 === 0 ? format(datum.value, 'd') : ''",
                           "tickSize": {"condition": {"test": "datum.value % 500 === 0", "value": -9}, "value": -5},
                           "labelPadding": 10, "title": "m(llJ) [GeV]", "titleAnchor": "end", "titlePadding": 3}},
            "y": {"field": "rhi", "type": "quantitative", "scale": {"domain": [0.5, 1.5], "clamp": true, "nice": false, "zero": false},
                  "axis": {"orient": "left", "values": [0.6,0.7,0.8,0.9,1,1.1,1.2,1.3,1.4],
                           "labelExpr": "(datum.value == 0.6 || datum.value == 0.8 || datum.value == 1 || datum.value == 1.2 || datum.value == 1.4) ? format(datum.value, '~g') : ''",
                           "tickSize": {"condition": {"test": "datum.value == 0.6 || datum.value == 0.8 || datum.value == 1 || datum.value == 1.2 || datum.value == 1.4", "value": -9}, "value": -5},
                           "labelPadding": 12, "title": "Data/Postfit", "titleX": -32}},
            "y2": {"field": "rlo"}
          }
        },
        {
          "data": {"values": [{}]},
          "mark": {"type": "rule", "color": "black", "strokeWidth": 1, "strokeDash": [4, 3]},
          "encoding": {"y": {"datum": 1, "type": "quantitative", "axis": null}}
        },
        {
          "data": {"name": "data"},
          "mark": {"type": "rule", "color": "black", "strokeWidth": 1.6, "clip": true},
          "encoding": {
            "x": {"field": "m", "type": "quantitative",
                  "axis": {"orient": "top", "values": [500,600,700,800,900,1000,1100,1200,1300,1400,1500,1600,1700,1800,1900,2000,2100,2200,2300,2400,2500,2600,2700,2800,2900,3000], "labels": false, "title": null,
                           "tickSize": {"condition": {"test": "datum.value % 500 === 0", "value": -9}, "value": -5}}},
            "y": {"field": "rhi", "type": "quantitative",
                  "axis": {"orient": "right", "values": [0.6,0.7,0.8,0.9,1,1.1,1.2,1.3,1.4], "labels": false, "title": null,
                           "tickSize": {"condition": {"test": "datum.value == 0.6 || datum.value == 0.8 || datum.value == 1 || datum.value == 1.2 || datum.value == 1.4", "value": -9}, "value": -5}}},
            "y2": {"field": "rlo"}
          }
        },
        {
          "data": {"name": "data"},
          "mark": {"type": "circle", "color": "black", "opacity": 1, "size": 36, "clip": true},
          "encoding": {
            "x": {"field": "m", "type": "quantitative", "axis": null},
            "y": {"field": "r", "type": "quantitative", "axis": null}
          }
        }
      ]
    }
  ]
}
